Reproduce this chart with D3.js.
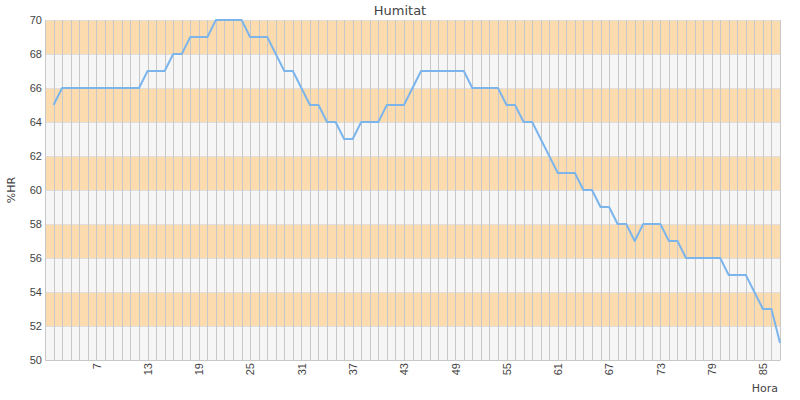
<!DOCTYPE html>
<html>
<head>
<meta charset="utf-8">
<script src="https://cdn.jsdelivr.net/npm/d3@7"></script>
<style>
  body { margin: 0; background: #fff; }
  svg { font-family: "DejaVu Sans", sans-serif; }
  .tick text { fill: #444; font-size: 11px; }
</style>
</head>
<body>
<div id="chart"></div>
<script>
/* CONSTANTS AND GLOBALS */
const width = 800,
  height = 400,
  margin = { top: 20, bottom: 40, left: 45, right: 20 };

// hours 2..87
const hours = d3.range(2, 88);
const humidity = [
  65, 66, 66, 66, 66, 66, 66, 66, 66, 66, 66,
  67, 67, 67, 68, 68, 69, 69, 69, 70, 70, 70, 70,
  69, 69, 69, 68, 67, 67, 66, 65, 65, 64, 64, 63, 63,
  64, 64, 64, 65, 65, 65, 66, 67, 67, 67, 67, 67, 67,
  66, 66, 66, 66, 65, 65, 64, 64, 63, 62, 61, 61, 61,
  60, 60, 59, 59, 58, 58, 57, 58, 58, 58, 57, 57,
  56, 56, 56, 56, 56, 55, 55, 55, 54, 53, 53, 51
];
const xTicks = [7, 13, 19, 25, 31, 37, 43, 49, 55, 61, 67, 73, 79, 85];
const yTicks = d3.range(50, 71, 2);

const data = hours.map((h, i) => ({ hora: h, hr: humidity[i] }));

const svg = d3.select("#chart")
  .append("svg")
  .attr("width", width)
  .attr("height", height);

const xScale = d3.scaleLinear()
  .domain([1, 87])
  .range([margin.left, width - margin.right]);

const yScale = d3.scaleLinear()
  .domain([50, 70])
  .range([height - margin.bottom, margin.top]);

// alternating bands
const bands = d3.range(50, 70, 2);
svg.append("g")
  .selectAll("rect")
  .data(bands)
  .join("rect")
  .attr("x", xScale(1))
  .attr("width", xScale(87) - xScale(1))
  .attr("y", d => yScale(d + 2))
  .attr("height", d => yScale(d) - yScale(d + 2))
  .attr("fill", (d, i) => i % 2 === 1 ? "#fcdcae" : "#f6f6f6");

// horizontal grid lines
svg.append("g")
  .selectAll("line")
  .data(yTicks)
  .join("line")
  .attr("x1", xScale(1))
  .attr("x2", xScale(87))
  .attr("y1", d => yScale(d) + 0.5)
  .attr("y2", d => yScale(d) + 0.5)
  .attr("stroke", "#dedede");

// vertical grid lines, one per hour
svg.append("g")
  .selectAll("line")
  .data(d3.range(1, 88))
  .join("line")
  .attr("x1", d => Math.round(xScale(d)) + 0.5)
  .attr("x2", d => Math.round(xScale(d)) + 0.5)
  .attr("y1", yScale(70))
  .attr("y2", yScale(50))
  .attr("stroke", "#c8c8c8");

// axes
const yAxis = d3.axisLeft(yScale).tickValues(yTicks).tickSize(0).tickPadding(3);
svg.append("g")
  .attr("transform", `translate(${margin.left}, 0)`)
  .call(yAxis)
  .call(g => g.select(".domain").remove());

const xAxis = d3.axisBottom(xScale).tickValues(xTicks).tickSize(0).tickPadding(3);
svg.append("g")
  .attr("transform", `translate(0, ${height - margin.bottom})`)
  .call(xAxis)
  .call(g => g.select(".domain").attr("stroke", "#c8c8c8"))
  .selectAll("text")
  .attr("transform", "rotate(-90)")
  .attr("text-anchor", "end")
  .attr("dy", "0.35em")
  .attr("x", -3)
  .attr("y", 0);

// line
const line = d3.line()
  .x(d => xScale(d.hora))
  .y(d => yScale(d.hr));

svg.append("path")
  .datum(data)
  .attr("fill", "none")
  .attr("stroke", "#7cb5ec")
  .attr("stroke-width", 2)
  .attr("stroke-linejoin", "round")
  .attr("d", line);

// title and labels
svg.append("text")
  .attr("x", width / 2)
  .attr("y", 15)
  .attr("text-anchor", "middle")
  .attr("fill", "#444")
  .attr("font-size", 13)
  .text("Humitat");

svg.append("text")
  .attr("transform", `translate(15, ${(yScale(50) + yScale(70)) / 2}) rotate(-90)`)
  .attr("text-anchor", "middle")
  .attr("fill", "#444")
  .attr("font-size", 11)
  .text("%HR");

svg.append("text")
  .attr("x", 778)
  .attr("y", 392)
  .attr("text-anchor", "end")
  .attr("fill", "#444")
  .attr("font-size", 11)
  .text("Hora");
</script>
</body>
</html>
